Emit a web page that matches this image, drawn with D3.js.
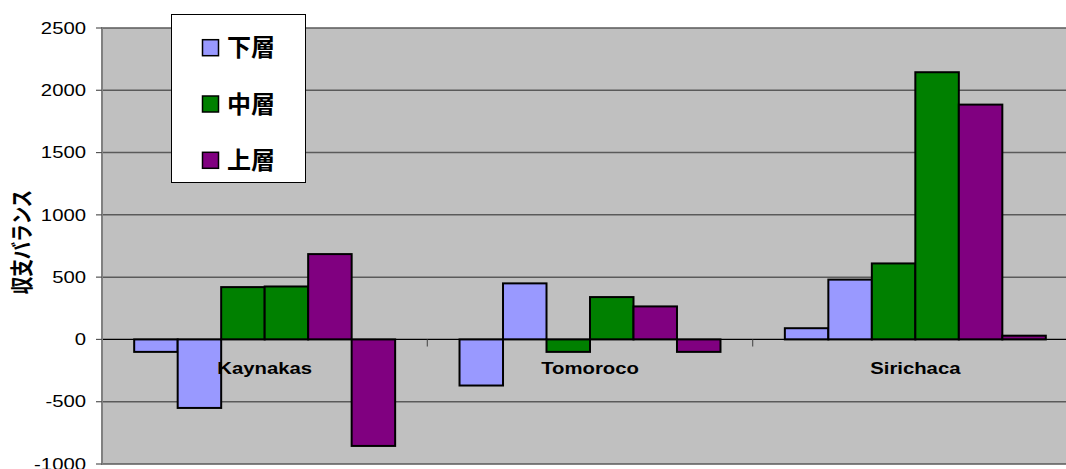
<!DOCTYPE html>
<html>
<head>
<meta charset="utf-8">
<script src="https://cdn.jsdelivr.net/npm/d3@7/dist/d3.min.js"></script>
<style>
  html, body { margin: 0; padding: 0; background: #fff; }
  svg { display: block; }
  text { font-family: "Liberation Sans", Arial, "Noto Sans CJK JP", sans-serif; fill: #000; }
</style>
</head>
<body>
<svg id="chart" width="1066" height="469"></svg>
<script>
// Income/expense balance by village, two bars per household class
const categories = ["Kaynakas", "Tomoroco", "Sirichaca"];
const classNames = ["下層", "中層", "上層"];
const classColors = ["#9999FF", "#008000", "#800080"];
const lowerA  = [-100, -370, 90];
const lowerB  = [-550, 450, 480];
const middleA = [420, -100, 610];
const middleB = [425, 340, 2145];
const upperA  = [685, 265, 1885];
const upperB  = [-855, -100, 30];
const yTicks = [-1000, -500, 0, 500, 1000, 1500, 2000, 2500];
const yTitle = "収支バランス";

const series = [
  { cls: 0, values: lowerA }, { cls: 0, values: lowerB },
  { cls: 1, values: middleA }, { cls: 1, values: middleB },
  { cls: 2, values: upperA }, { cls: 2, values: upperB }
];

const svg = d3.select("#chart");
const plot = { left: 102, right: 1078, top: 28, bottom: 464 };
const stretch = 1.27;

const x = d3.scaleBand().domain(categories).range([plot.left, plot.right]).padding(0);
const xs = d3.scaleBand().domain(d3.range(series.length)).range([0, x.bandwidth()])
  .paddingInner(0).paddingOuter(0.74);
const y = d3.scaleLinear().domain([-1000, 2500]).range([plot.bottom, plot.top]);

// plot background
svg.append("rect")
  .attr("x", plot.left).attr("y", plot.top)
  .attr("width", plot.right - plot.left).attr("height", plot.bottom - plot.top)
  .attr("fill", "#C0C0C0");

// horizontal gridlines
svg.append("g").selectAll("line").data(yTicks.filter(d => d !== 0)).join("line")
  .attr("x1", plot.left).attr("x2", plot.right)
  .attr("y1", d => y(d)).attr("y2", d => y(d))
  .attr("stroke", "#5a5a5a").attr("stroke-width", 1.5);

// bars
const rows = [];
series.forEach((s, si) => s.values.forEach((v, ci) => rows.push({ si, cls: s.cls, cat: categories[ci], v })));
svg.append("g").selectAll("rect").data(rows).join("rect")
  .attr("x", d => x(d.cat) + xs(d.si))
  .attr("width", xs.bandwidth())
  .attr("y", d => Math.min(y(d.v), y(0)))
  .attr("height", d => Math.abs(y(d.v) - y(0)))
  .attr("fill", d => classColors[d.cls])
  .attr("stroke", "#000").attr("stroke-width", 2);

// category axis at zero with tick marks at band edges
const y0 = y(0);
svg.append("line")
  .attr("x1", plot.left).attr("x2", plot.right)
  .attr("y1", y0).attr("y2", y0)
  .attr("stroke", "#000").attr("stroke-width", 1.2);
const edges = categories.map(c => x(c)).concat([plot.right]);
svg.append("g").selectAll("line").data(edges).join("line")
  .attr("x1", d => d).attr("x2", d => d)
  .attr("y1", y0).attr("y2", y0 + 7)
  .attr("stroke", "#555").attr("stroke-width", 1.2);

// category labels
svg.append("g").selectAll("text").data(categories).join("text")
  .attr("transform", d => `translate(${x(d) + x.bandwidth() / 2},374) scale(${stretch},1)`)
  .attr("text-anchor", "middle")
  .attr("font-size", 16).attr("font-weight", "bold")
  .text(d => d);

// value axis
svg.append("line")
  .attr("x1", plot.left).attr("x2", plot.left)
  .attr("y1", plot.top - 1).attr("y2", plot.bottom + 1)
  .attr("stroke", "#808080").attr("stroke-width", 2);
svg.append("g").selectAll("line").data(yTicks).join("line")
  .attr("x1", plot.left - 6).attr("x2", plot.left)
  .attr("y1", d => y(d)).attr("y2", d => y(d))
  .attr("stroke", "#555").attr("stroke-width", 1.2);
svg.append("g").selectAll("text").data(yTicks).join("text")
  .attr("transform", d => `translate(86,${y(d)}) scale(${stretch},1)`)
  .attr("text-anchor", "end")
  .attr("dominant-baseline", "central")
  .attr("font-size", 16)
  .text(d => d);

// value axis title
svg.append("text")
  .attr("transform", `translate(22,242) scale(${stretch},1) rotate(-90)`)
  .attr("text-anchor", "middle")
  .attr("dominant-baseline", "central")
  .attr("font-size", 17.5).attr("font-weight", "bold")
  .text(yTitle);

// legend
const legend = svg.append("g");
legend.append("rect")
  .attr("x", 171.5).attr("y", 14.5).attr("width", 134).attr("height", 168)
  .attr("fill", "#fff").attr("stroke", "#000").attr("stroke-width", 1);
const items = legend.selectAll("g").data(classNames).join("g")
  .attr("transform", (d, i) => `translate(202,${47.7 + i * 56.3})`);
items.append("rect")
  .attr("x", 0.5).attr("y", -8).attr("width", 16).attr("height", 16)
  .attr("fill", (d, i) => classColors[i])
  .attr("stroke", "#000").attr("stroke-width", 1.5);
items.append("text")
  .attr("x", 25).attr("y", 0)
  .attr("dominant-baseline", "central")
  .attr("font-size", 24).attr("font-weight", "bold")
  .text(d => d);
</script>
</body>
</html>
